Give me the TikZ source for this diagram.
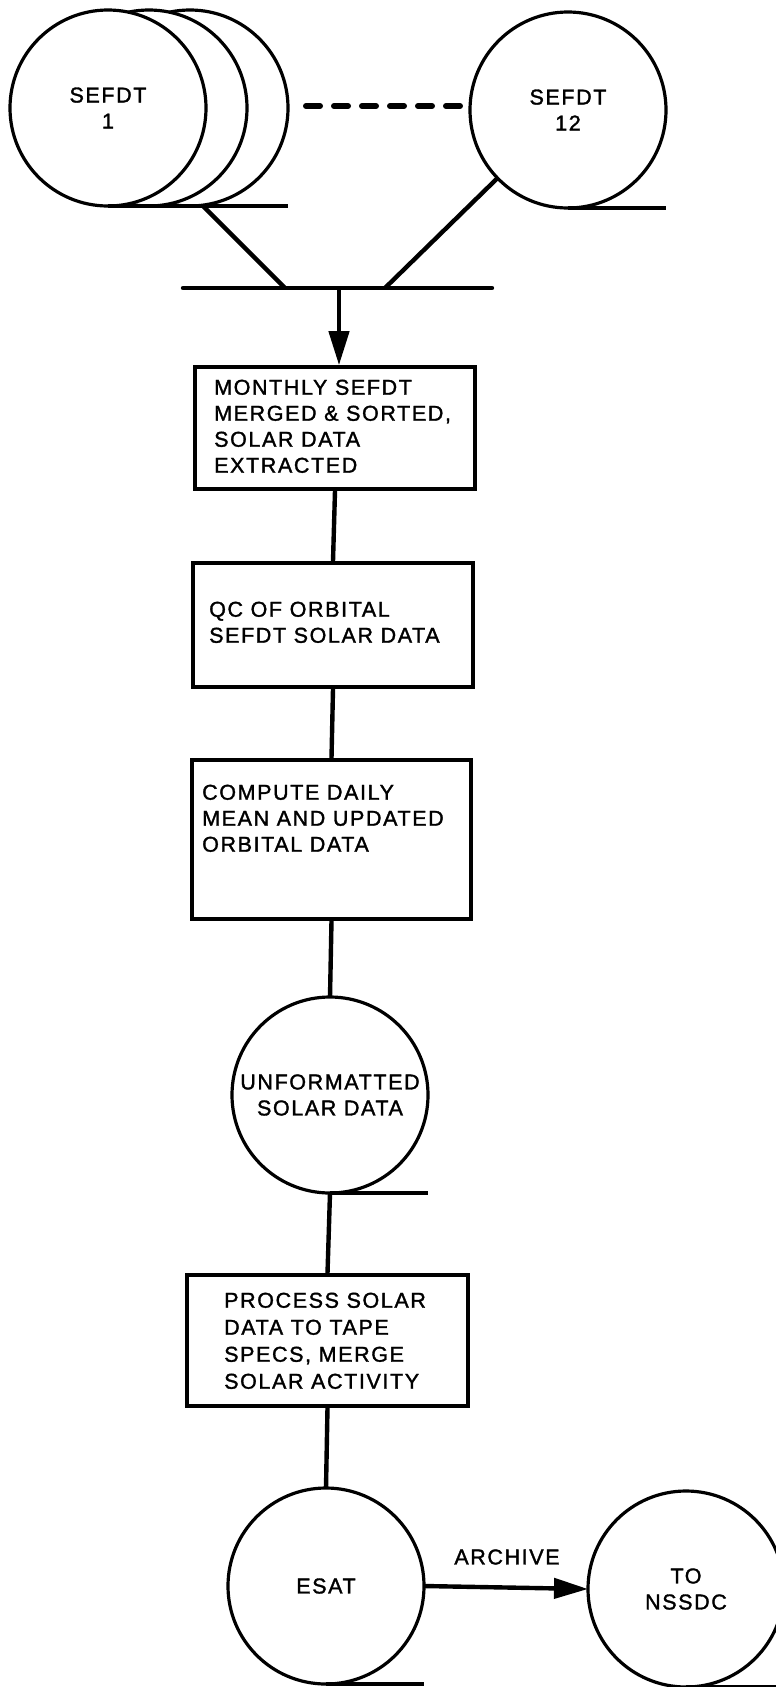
\documentclass[tikz,border=0pt]{standalone}
\usepackage{fontspec}
\setmainfont{Liberation Sans}[LetterSpace=7.5,FakeBold=1.5]
\usetikzlibrary{arrows.meta,calc}

\newcommand{\diagfont}{\fontsize{21.5}{26}\selectfont}

\begin{document}
\begin{tikzpicture}[x=1pt,y=1pt,yscale=-1,xscale=1,
  reel/.style={draw,circle,line width=3.2pt,minimum size=196pt,inner sep=0pt,outer sep=0pt,fill=white,align=center,font=\diagfont},
  procbox/.style={draw,rectangle,line width=3.6pt,inner sep=0pt},
  boxtext/.style={anchor=north west,inner sep=0pt,align=left,font=\diagfont},
  flow/.style={line width=4.4pt},
  tail/.style={line width=3.2pt},
  flowarrow/.style={-{Triangle[length=34pt,width=20pt]}}
  ]
  \useasboundingbox (0,0) rectangle (776,1687);
  \clip (0,0) rectangle (776,1687);

  %Shape: Circle (stacked tapes, back ones first)
  \node[reel] (sefdt1c) at (190,108) {};
  \node[reel] (sefdt1b) at (149,108) {};
  \node[reel] (sefdt1) at (108,108) {SEFDT\\1};
  \draw[tail] (sefdt1.south) -- (sefdt1.south -| sefdt1c.east);
  %Shape: Circle
  \node[reel] (sefdt12) at (568,110) {SEFDT\\12};
  \draw[tail] (sefdt12.south) -- (sefdt12.south -| sefdt12.east);
  %Dashed Lines
  \draw[line width=6pt,line cap=round,dash pattern=on 14pt off 14pt,shorten <=18pt,shorten >=10pt] ([yshift=-2pt]sefdt1c.east) -- ([yshift=-2pt]sefdt1c.east -| sefdt12.west);

  %Straight Lines (merge of the tapes)
  \coordinate (fork1) at (203,206);
  \coordinate (barL) at (183,288);
  \coordinate (barR) at (492,288);
  \coordinate (joinL) at (285,288);
  \coordinate (joinR) at (385,288);
  \coordinate (stem) at (339,288);
  \draw[flow] (fork1) -- (joinL);
  \draw[flow] (sefdt12.-136) -- (joinR);
  \draw[flow,line cap=round] (barL) -- (barR);

  %Shape: Rectangle
  \node[procbox,minimum width=280pt,minimum height=122pt] (merge) at (335,428) {};
  \node[procbox,minimum width=280pt,minimum height=124pt] (qc) at (333,625) {};
  \node[procbox,minimum width=279pt,minimum height=159pt] (dailymean) at (331.5,839.5) {};
  %Shape: Circle
  \node[reel] (unformat) at (330,1095) {UNFORMATTED\\SOLAR DATA};
  \draw[tail] (unformat.south) -- (unformat.south -| unformat.east);
  %Shape: Rectangle
  \node[procbox,minimum width=281pt,minimum height=131pt] (process) at (327.5,1340.5) {};
  %Shape: Circle
  \node[reel] (esat) at (326,1586) {ESAT};
  \draw[tail] (esat.south) -- (esat.south -| esat.east);
  \node[reel] (nssdc) at (686,1589) {TO\\NSSDC};
  \draw[tail] (nssdc.south) -- (nssdc.south -| nssdc.east);

  %Straight Lines
  \draw[flow,flowarrow] (stem) -- (stem |- merge.north);
  \draw[flow] (merge.south) -- (qc.north);
  \draw[flow] (qc.south) -- (dailymean.north);
  \draw[flow] (dailymean.south) -- (unformat.north);
  \draw[flow] (unformat.south) -- (process.north);
  \draw[flow] (process.south) -- (esat.north);
  \draw[flow,flowarrow] (esat.east) -- (nssdc.west);

  % Text Node
  \node[boxtext] (mergetxt) at (214,379.5) {MONTHLY SEFDT\\MERGED \& SORTED,\\SOLAR DATA\\EXTRACTED};
  % Text Node
  \node[boxtext] (qctxt) at (209,601.5) {QC OF ORBITAL\\SEFDT SOLAR DATA};
  % Text Node
  \node[boxtext] (dailymeantxt) at (202,784.5) {COMPUTE DAILY\\MEAN AND UPDATED\\ORBITAL DATA};
  % Text Node
  \node[boxtext,font=\fontsize{21.5}{27}\selectfont] (processtxt) at (224,1292.5) {PROCESS SOLAR\\DATA TO TAPE\\SPECS, MERGE\\SOLAR ACTIVITY};
  % Text Node
  \node[inner sep=0pt,font=\diagfont] (archive) at (507,1557) {ARCHIVE};

\end{tikzpicture}
\end{document}
